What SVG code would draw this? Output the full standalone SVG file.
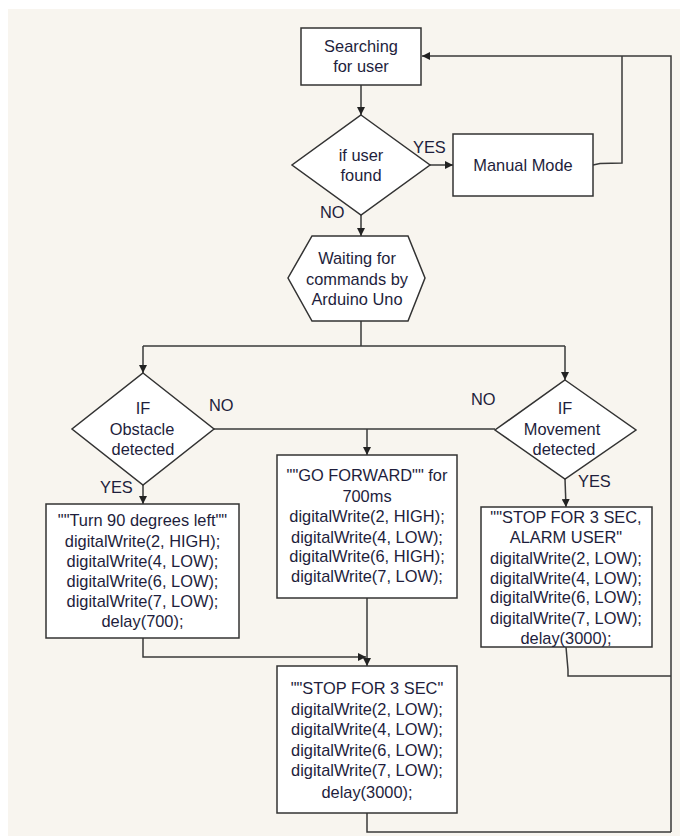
<svg xmlns="http://www.w3.org/2000/svg" width="680" height="836" viewBox="0 0 680 836">
<style>
.bg{fill:#f8f5ef}
.shape{fill:#ffffff;stroke:#333333;stroke-width:1.5}
.t{font-family:"Liberation Sans",Arial,sans-serif;font-size:16.4px;fill:#1e1e3c;text-anchor:middle}
.l{font-family:"Liberation Sans",Arial,sans-serif;font-size:16.4px;fill:#1e1e3c}
.c{fill:none;stroke:#3a3a3a;stroke-width:1.5}
</style>
<defs>
<marker id="ah" markerUnits="userSpaceOnUse" markerWidth="8" markerHeight="8" refX="8" refY="4" orient="auto">
<path d="M0,0 L8,4 L0,8 z" fill="#222222"/>
</marker>
</defs>
<rect x="0" y="0" width="680" height="836" fill="#ffffff"/>
<rect class="bg" x="8" y="9" width="672" height="827"/>

<g id="connectors">
<path class="c" d="M361,85 L361,115" marker-end="url(#ah)"/>
<path class="c" d="M430,165 L453,165" marker-end="url(#ah)"/>
<path class="c" d="M361,215 L361,236" marker-end="url(#ah)"/>
<path class="c" d="M593,165 L600,163.5 L622,163 L622,56"/>
<path class="c" d="M671,832 L671,56 L422,56" marker-end="url(#ah)"/>
<path class="c" d="M361,321 L361,346"/>
<path class="c" d="M143,346 L565,346"/>
<path class="c" d="M143,346 L143,373" marker-end="url(#ah)"/>
<path class="c" d="M565,346 L565,380" marker-end="url(#ah)"/>
<path class="c" d="M214,429 L495,429"/>
<path class="c" d="M367,429 L367,455" marker-end="url(#ah)"/>
<path class="c" d="M143,485 L143,504" marker-end="url(#ah)"/>
<path class="c" d="M565,479 L566,507" marker-end="url(#ah)"/>
<path class="c" d="M143,638 L143,657 L366,657" marker-end="url(#ah)"/>
<path class="c" d="M367,598 L367,666" marker-end="url(#ah)"/>
<path class="c" d="M367,813 L367,832 L671,832"/>
<path class="c" d="M566,647 L568,670 L568,676 L671,676"/>
</g>

<g id="searching">
<rect class="shape" x="301" y="28" width="120" height="57"/>
<text class="t" x="361" y="52">Searching</text>
<text class="t" x="361" y="72">for user</text>
</g>

<g id="if-user-found">
<polygon class="shape" points="361,115 430,165 361,215 292,165"/>
<text class="t" x="361" y="161">if user</text>
<text class="t" x="361" y="181">found</text>
</g>

<g id="manual-mode">
<rect class="shape" x="453" y="134" width="140" height="62"/>
<text class="t" x="523" y="171">Manual Mode</text>
</g>

<g id="waiting">
<polygon class="shape" points="312,236 408,236 425,278 408,321 312,321 288,278"/>
<text class="t" x="357" y="264">Waiting for</text>
<text class="t" x="357" y="285">commands by</text>
<text class="t" x="357" y="305">Arduino Uno</text>
</g>

<g id="if-obstacle">
<polygon class="shape" points="143,373 214,429 143,485 72,429"/>
<text class="t" x="143" y="414">IF</text>
<text class="t" x="142" y="435">Obstacle</text>
<text class="t" x="143" y="455">detected</text>
</g>

<g id="if-movement">
<polygon class="shape" points="565,380 636,430 565,479 495,430"/>
<text class="t" x="565" y="414">IF</text>
<text class="t" x="562" y="435">Movement</text>
<text class="t" x="564" y="455">detected</text>
</g>

<g id="turn-left">
<rect class="shape" x="46" y="504" width="193" height="134"/>
<text class="t" x="142.5" y="526">""Turn 90 degrees left""</text>
<text class="t" x="142.5" y="546.5">digitalWrite(2, HIGH);</text>
<text class="t" x="142.5" y="567">digitalWrite(4, LOW);</text>
<text class="t" x="142.5" y="587">digitalWrite(6, LOW);</text>
<text class="t" x="142.5" y="607">digitalWrite(7, LOW);</text>
<text class="t" x="142.5" y="627">delay(700);</text>
</g>

<g id="go-forward">
<rect class="shape" x="277" y="455" width="180" height="143"/>
<text class="t" x="367" y="481">""GO FORWARD"" for</text>
<text class="t" x="367" y="502">700ms</text>
<text class="t" x="367" y="522">digitalWrite(2, HIGH);</text>
<text class="t" x="367" y="542.5">digitalWrite(4, LOW);</text>
<text class="t" x="367" y="562">digitalWrite(6, HIGH);</text>
<text class="t" x="367" y="582">digitalWrite(7, LOW);</text>
</g>

<g id="stop-alarm">
<rect class="shape" x="481" y="507" width="171" height="140"/>
<text class="t" x="566" y="523">""STOP FOR 3 SEC,</text>
<text class="t" x="566" y="543">ALARM USER"</text>
<text class="t" x="566" y="564">digitalWrite(2, LOW);</text>
<text class="t" x="566" y="584">digitalWrite(4, LOW);</text>
<text class="t" x="566" y="603">digitalWrite(6, LOW);</text>
<text class="t" x="566" y="624">digitalWrite(7, LOW);</text>
<text class="t" x="566" y="644">delay(3000);</text>
</g>

<g id="stop">
<rect class="shape" x="277" y="666" width="180" height="147"/>
<text class="t" x="367" y="694">""STOP FOR 3 SEC"</text>
<text class="t" x="367" y="715">digitalWrite(2, LOW);</text>
<text class="t" x="367" y="735">digitalWrite(4, LOW);</text>
<text class="t" x="367" y="756">digitalWrite(6, LOW);</text>
<text class="t" x="367" y="776">digitalWrite(7, LOW);</text>
<text class="t" x="367" y="797.5">delay(3000);</text>
</g>

<g id="labels">
<text class="l" x="413" y="153">YES</text>
<text class="l" x="320" y="218">NO</text>
<text class="l" x="209" y="411">NO</text>
<text class="l" x="471" y="405">NO</text>
<text class="l" x="100" y="493">YES</text>
<text class="l" x="578" y="487">YES</text>
</g>
</svg>
